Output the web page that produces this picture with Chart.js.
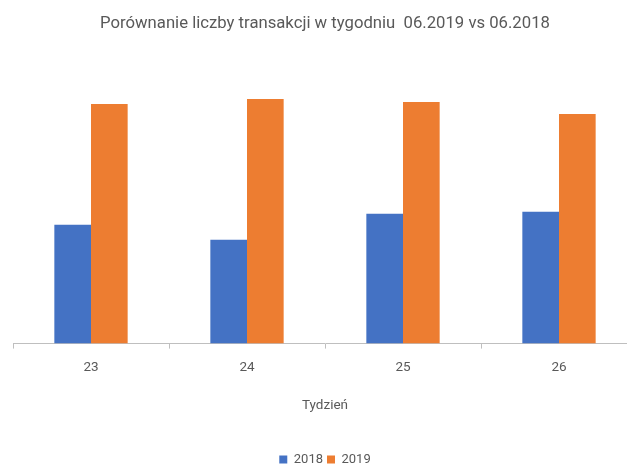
<!DOCTYPE html>
<html><head><meta charset="utf-8">
<script src="https://cdn.jsdelivr.net/npm/chart.js@4"></script>
<style>html,body{margin:0;padding:0;overflow:hidden;background:#fff;width:627px;height:465px}#w{width:645px;height:465px}</style>
</head><body><div id="w"><canvas id="c"></canvas></div>
<script>
const categories = ['23', '24', '25', '26'];
const series2018 = [119, 104, 130, 132];
const series2019 = [240, 245, 242, 230];
const seriesNames = ['2018', '2019'];
const titleText = 'Porównanie liczby transakcji w tygodniu  06.2019 vs 06.2018';
const axisTitle = 'Tydzień';

const gray = '#595959';
new Chart(document.getElementById('c'), {
  type: 'bar',
  data: {
    labels: categories,
    datasets: [
      { label: seriesNames[0], data: series2018, backgroundColor: '#4472C4' },
      { label: seriesNames[1], data: series2019, backgroundColor: '#ED7D31' }
    ]
  },
  options: {
    responsive: true, maintainAspectRatio: false, animation: false,
    devicePixelRatio: 1,
    layout: { padding: { left: 13, right: 8, top: 8, bottom: -11 } },
    datasets: { bar: { barPercentage: 1, categoryPercentage: 0.47 } },
    plugins: {
      title: { display: true, text: titleText, color: gray,
        font: { family: 'Roboto', size: 16.7, weight: 'normal' }, padding: { top: 6, bottom: 55 } },
      legend: { position: 'bottom', labels: { color: gray, boxWidth: 8, boxHeight: 8,
        font: { family: 'Roboto', size: 13 }, padding: 4 } },
      tooltip: { enabled: false }
    },
    scales: {
      x: {
        grid: { display: true, drawOnChartArea: false, drawTicks: true, tickLength: 5, color: '#bfbfbf' },
        border: { color: '#bfbfbf' },
        ticks: { color: gray, font: { family: 'Roboto', size: 13.5 }, padding: 11 },
        title: { display: true, text: axisTitle, color: gray, font: { family: 'Roboto', size: 13.5 }, padding: { top: 11, bottom: 35 } }
      },
      y: { display: false, min: 0, max: 255 }
    }
  }
});
</script></body></html>
